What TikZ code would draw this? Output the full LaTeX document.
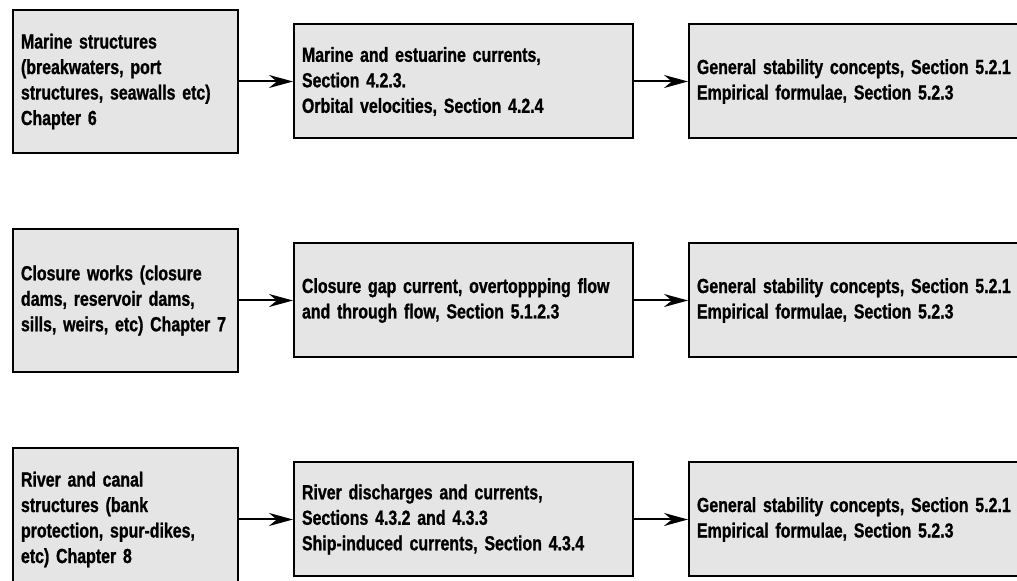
\documentclass[tikz,border=0pt]{standalone}
\usepackage{fontspec}
\newfontfamily\condfont[FakeStretch=0.78,BoldFeatures={FakeBold=1}]{Liberation Sans}
\usetikzlibrary{arrows.meta,positioning}

\begin{document}
\begin{tikzpicture}[x=0.5pt,y=-0.5pt,node distance=37pt and 27pt, box/.style={draw,fill=gray!20,line width=1pt,align=left,inner xsep=4pt,minimum height=57pt,font={\condfont\bfseries\fontsize{10.2pt}{12.75pt}\selectfont}}, src/.style={box,text width=104.5pt,minimum height=71.5pt}, >={Stealth[length=12pt,width=6.5pt]}]
\useasboundingbox (0,0) rectangle (1017,581);
\clip (0,0) rectangle (1017,581);
\node[src,anchor=north west] (m) at (12,9) {Marine structures\\(breakwaters, port\\structures, seawalls etc)\\Chapter 6};
\node[box,text width=161.5pt,right=of m] (mc) {Marine and estuarine currents,\\Section 4.2.3.\\Orbital velocities, Section 4.2.4};
\node[box,text width=164.5pt,right=of mc] (ms) {General stability concepts, Section 5.2.1\\Empirical formulae, Section 5.2.3};
\node[src,below=of m] (c) {Closure works (closure\\dams, reservoir dams,\\sills, weirs, etc) Chapter 7};
\node[box,text width=161.5pt,right=of c] (cc) {Closure gap current, overtoppping flow\\and through flow, Section 5.1.2.3};
\node[box,text width=164.5pt,right=of cc] (cs) {General stability concepts, Section 5.2.1\\Empirical formulae, Section 5.2.3};
\node[src,below=of c] (r) {River and canal\\structures (bank\\protection, spur-dikes,\\etc) Chapter 8};
\node[box,text width=161.5pt,right=of r] (rc) {River discharges and currents,\\Sections 4.3.2 and 4.3.3\\Ship-induced currents, Section 4.3.4};
\node[box,text width=164.5pt,right=of rc] (rs) {General stability concepts, Section 5.2.1\\Empirical formulae, Section 5.2.3};
\draw[->,line width=1pt] (m)--(mc); \draw[->,line width=1pt] (mc)--(ms);
\draw[->,line width=1pt] (c)--(cc); \draw[->,line width=1pt] (cc)--(cs);
\draw[->,line width=1pt] (r)--(rc); \draw[->,line width=1pt] (rc)--(rs);
\end{tikzpicture}
\end{document}
